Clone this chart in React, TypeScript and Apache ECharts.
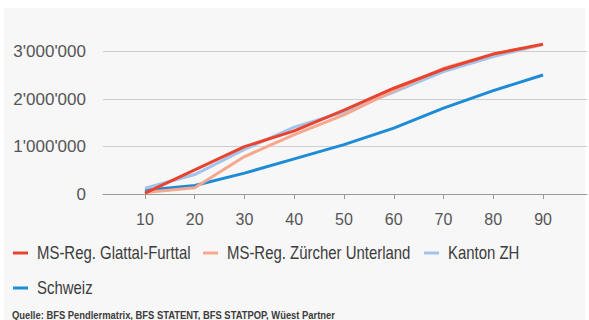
import React, { useEffect, useRef } from "react";
import * as echarts from "echarts";

const xValues = [10, 20, 30, 40, 50, 60, 70, 80, 90];
const seriesNames = [
  "MS-Reg. Glattal-Furttal",
  "MS-Reg. Zürcher Unterland",
  "Kanton ZH",
  "Schweiz",
];
const glattal = [20000, 510000, 1000000, 1330000, 1770000, 2230000, 2630000, 2950000, 3160000];
const unterland = [30000, 130000, 790000, 1250000, 1670000, 2180000, 2650000, 2950000, 3150000];
const kanton = [120000, 410000, 940000, 1410000, 1730000, 2150000, 2580000, 2900000, 3150000];
const schweiz = [80000, 180000, 440000, 740000, 1040000, 1390000, 1810000, 2180000, 2510000];
const colors = ["#e8432f", "#f6a88f", "#a3c4ea", "#1e8bd6"];
const source = "Quelle: BFS Pendlermatrix, BFS STATENT, BFS STATPOP, Wüest Partner";

// legend layout (icon x, row y) for each item
const legendPos = [
  [13, 253],
  [203, 253],
  [424, 253],
  [13, 288],
];

const fmt = (v: number) =>
  String(Math.round(v)).replace(/\B(?=(\d{3})+(?!\d))/g, "'");

export default function App() {
  const ref = useRef<HTMLDivElement>(null);
  useEffect(() => {
    if (!ref.current) return;
    const chart = echarts.init(ref.current, null, { renderer: "svg" });
    const regular = "'Liberation Sans', Arial, sans-serif";
    const mk = (i: number, data: number[], z: number) => ({
      name: seriesNames[i],
      type: "line",
      data: data.map((v, k) => [xValues[k], v]),
      symbol: "none",
      z,
      clip: false,
      lineStyle: { color: colors[i], width: 3 },
      itemStyle: { color: colors[i] },
    });
    const legendGraphics: any[] = [];
    seriesNames.forEach((name, i) => {
      const [lx, ly] = legendPos[i];
      legendGraphics.push({
        type: "rect",
        silent: true,
        shape: { x: lx, y: ly - 1.5, width: 15, height: 3 },
        style: { fill: colors[i] },
      });
      legendGraphics.push({
        type: "text",
        silent: true,
        x: lx + 24,
        y: ly,
        scaleX: 0.83,
        style: {
          text: name,
          x: 0,
          y: 0,
          fontFamily: regular,
          fontSize: 18,
          fill: "#3c3c3c",
          verticalAlign: "middle",
          align: "left",
        },
      });
    });
    chart.setOption({
      animation: false,
      graphic: [
        {
          type: "rect",
          z: -10,
          silent: true,
          shape: { x: 4, y: 8, width: 581, height: 312 },
          style: { fill: "#f7f7f7" },
        },
        ...legendGraphics,
        {
          type: "text",
          silent: true,
          x: 12,
          y: 315,
          scaleX: 0.94,
          style: {
            text: source,
            x: 0,
            y: 0,
            fontFamily: regular,
            fontSize: 10,
            fontWeight: "bold",
            fill: "#3c3c3c",
            verticalAlign: "middle",
          },
        },
      ],
      grid: { left: 103, right: 2, top: 28, bottom: 126 },
      xAxis: {
        type: "value",
        min: 1.56,
        max: 98.84,
        splitLine: { show: false },
        axisLine: { show: true, lineStyle: { color: "#9a9a9a", width: 1 } },
        axisTick: {
          show: true,
          customValues: xValues,
          length: 5,
          lineStyle: { color: "#9a9a9a" },
        },
        axisLabel: {
          customValues: xValues,
          margin: 17,
          fontFamily: regular,
          fontSize: 16,
          color: "#555",
        },
      },
      yAxis: {
        type: "value",
        min: 0,
        max: 3500000,
        interval: 1000000,
        axisLine: { show: false },
        axisTick: { show: false },
        splitLine: {
          show: true,
          showMaxLine: false,
          lineStyle: { color: "#cfcfcf", width: 1 },
        },
        axisLabel: {
          showMaxLabel: false,
          margin: 17,
          fontFamily: regular,
          fontSize: 17,
          color: "#555",
          formatter: (v: number) => fmt(v),
        },
      },
      series: [
        mk(3, schweiz, 2),
        mk(2, kanton, 3),
        mk(1, unterland, 4),
        mk(0, glattal, 5),
      ],
    });
    return () => chart.dispose();
  }, []);
  return (
    <div
      ref={ref}
      style={{ position: "fixed", left: 0, top: 0, width: 589, height: 320, background: "#fff" }}
    />
  );
}
